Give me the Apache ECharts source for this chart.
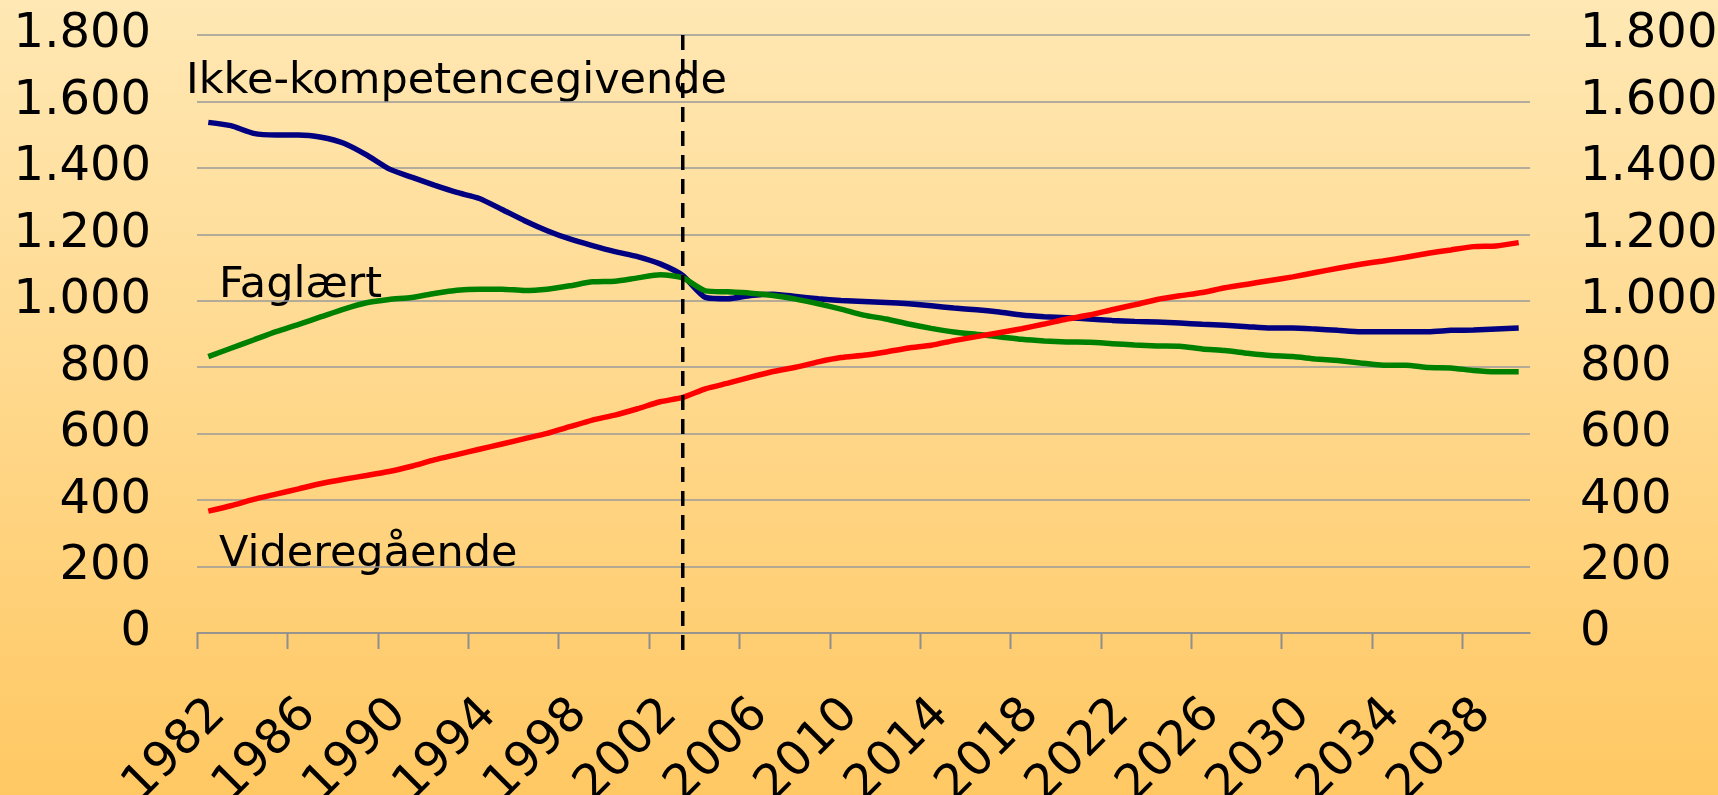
<!DOCTYPE html>
<html>
<head>
<meta charset="utf-8">
<script src="https://cdn.jsdelivr.net/npm/echarts@6/dist/echarts.min.js"></script>
<style>
  html, body { margin: 0; padding: 0; }
  #chart { width: 1718px; height: 795px; }
</style>
</head>
<body>
<div id="chart"></div>
<script>
const years = ['1982','1983','1984','1985','1986','1987','1988','1989','1990','1991','1992','1993','1994','1995','1996','1997','1998','1999','2000','2001','2002','2003','2004','2005','2006','2007','2008','2009','2010','2011','2012','2013','2014','2015','2016','2017','2018','2019','2020','2021','2022','2023','2024','2025','2026','2027','2028','2029','2030','2031','2032','2033','2034','2035','2036','2037','2038','2039','2040'];

const ikkeKompetencegivende = [1537,1527,1504,1499,1499,1492,1474,1439,1397,1372,1348,1326,1308,1275,1241,1211,1186,1166,1148,1133,1111,1076,
  1010,1006,1016,1020,1013,1006,1001,998,995,991,985,978,973,966,957,952,949,945,941,938,936,933,929,
  926,922,918,918,915,911,907,907,907,907,911,912,915,918];

const faglaert = [832,857,882,907,929,952,975,994,1004,1010,1022,1032,1035,1035,1031,1035,1045,1057,1059,1069,1078,1069,
  1030,1027,1023,1016,1005,991,975,957,945,930,917,906,899,892,884,879,876,875,871,867,864,863,855,
  850,842,835,832,825,820,813,806,806,799,798,790,786,786];

const videregaaende = [367,383,402,418,434,450,463,474,486,502,521,537,553,569,585,601,621,641,656,675,696,709,
  735,752,770,787,800,816,829,836,846,858,866,880,892,904,916,930,945,957,973,988,1004,1015,1025,
  1039,1050,1061,1072,1085,1098,1110,1120,1131,1143,1153,1163,1165,1175];

const seriesNames = ['Ikke-kompetencegivende', 'Faglært', 'Videregående'];
const tickYears = ['1982','1986','1990','1994','1998','2002','2006','2010','2014','2018','2022','2026','2030','2034','2038'];
const dividerYear = ['2003'];
const yMin = 0, yMax = 1800, yStep = 200;

const FONT = '"DejaVu Sans", Verdana, sans-serif';

function fmt(v) {
  const s = String(Math.round(v));
  return s.replace(/\B(?=(\d{3})+(?!\d))/g, '.');
}

const chart = echarts.init(document.getElementById('chart'), null, { renderer: 'canvas' });

const yAxisCommon = {
  type: 'value', min: yMin, max: yMax, interval: yStep,
  axisLine: { show: false }, axisTick: { show: false },
  axisLabel: { fontFamily: FONT, fontSize: 48, color: '#000', formatter: fmt }
};

const option = {
  animation: false,
  backgroundColor: {
    type: 'linear', x: 0, y: 0, x2: 0, y2: 1,
    colorStops: [{ offset: 0, color: '#FFE8B4' }, { offset: 1, color: '#FFC863' }]
  },
  grid: { left: 197, right: 188, top: 35, bottom: 162, containLabel: false, outerBoundsMode: 'none' },
  xAxis: {
    type: 'category', data: years, boundaryGap: true,
    axisLine: { lineStyle: { color: '#8f8f8f', width: 1.5 } },
    axisTick: { show: false },
    axisLabel: { interval: 3, rotate: 45, margin: 84, padding: [0, -14, 0, 0],
      fontFamily: FONT, fontSize: 48, color: '#000' },
    splitLine: { show: false }
  },
  yAxis: [
    Object.assign({}, yAxisCommon, {
      position: 'left',
      axisLabel: Object.assign({}, yAxisCommon.axisLabel, { margin: 46 }),
      splitLine: { show: true, lineStyle: { color: '#9a9a9a', width: 1.5 } }
    }),
    Object.assign({}, yAxisCommon, {
      position: 'right',
      axisLabel: Object.assign({}, yAxisCommon.axisLabel, { margin: 50 }),
      splitLine: { show: false }
    })
  ],
  series: [
    { name: seriesNames[0], type: 'line', data: ikkeKompetencegivende, showSymbol: false, smooth: 0.2,
      lineStyle: { color: '#000080', width: 5.5 }, itemStyle: { color: '#000080' }, z: 3 },
    { name: seriesNames[1], type: 'line', data: faglaert, showSymbol: false, smooth: 0.2,
      lineStyle: { color: '#008000', width: 5.5 }, itemStyle: { color: '#008000' }, z: 3 },
    { name: seriesNames[2], type: 'line', data: videregaaende, showSymbol: false, smooth: 0.2,
      lineStyle: { color: '#FF0000', width: 5.5 }, itemStyle: { color: '#FF0000' }, z: 3 },
    { type: 'custom', data: tickYears.map(y => [y, yMin]), z: 2, clip: false, silent: true,
      renderItem: function (params, api) {
        const c = api.coord([api.value(0), api.value(1)]);
        const bw = api.size([1, 0])[0];
        const x = Math.round(c[0] - bw / 2) + 0.5;
        return { type: 'line',
          shape: { x1: x, y1: c[1], x2: x, y2: c[1] + 16 },
          style: { stroke: '#8f8f8f', lineWidth: 2 } };
      }
    },
    { type: 'custom', data: dividerYear.map(y => [y, yMax]), z: 5, clip: false, silent: true,
      renderItem: function (params, api) {
        const top = api.coord([api.value(0), api.value(1)]);
        const bot = api.coord([api.value(0), yMin]);
        return { type: 'line',
          shape: { x1: top[0], y1: top[1], x2: bot[0], y2: bot[1] + 22 },
          style: { stroke: '#000', lineWidth: 3.5, lineDash: [15, 9] } };
      }
    }
  ],
  graphic: [
    { type: 'text', left: 186, top: 60, style: { text: seriesNames[0], font: '43px ' + FONT, fill: '#000' } },
    { type: 'text', left: 219, top: 264, style: { text: seriesNames[1], font: '43px ' + FONT, fill: '#000' } },
    { type: 'text', left: 219, top: 533, style: { text: seriesNames[2], font: '43px ' + FONT, fill: '#000' } }
  ]
};
chart.setOption(option);
</script>
</body>
</html>
